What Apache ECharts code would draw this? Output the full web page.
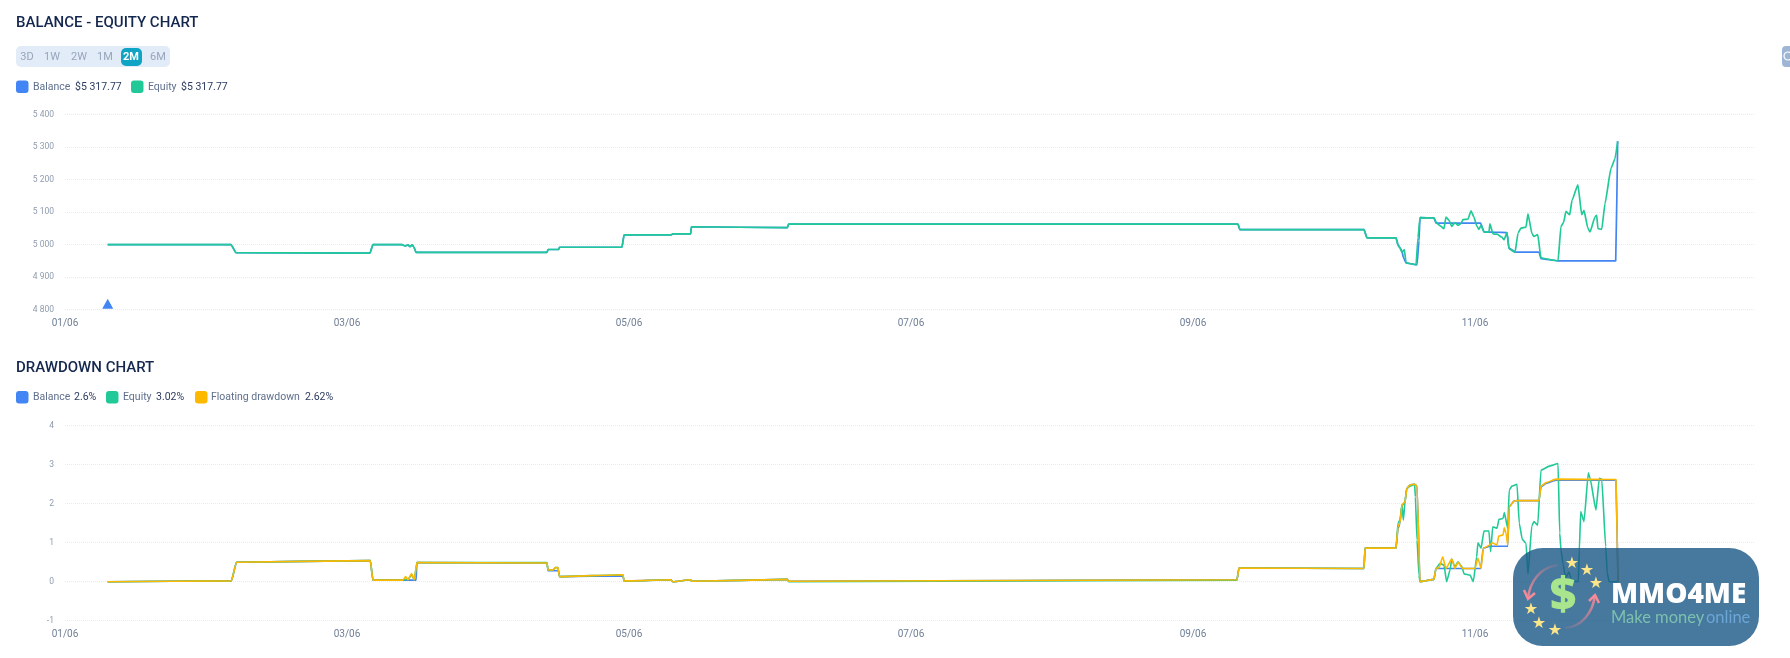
<!DOCTYPE html>
<html><head><meta charset="utf-8">
<style>html,body{margin:0;padding:0;background:#fff}#c{width:1790px;height:658px}</style>
<script src="https://cdn.jsdelivr.net/npm/echarts@6/dist/echarts.min.js"></script>
</head><body><div id="c"></div>
<script>
const rangeButtons=['3D','1W','2W','1M','2M','6M'];
const commonStart=[[0.303,5000],[1.177,5000],[1.213,4975],[2.163,4974],[2.184,5000],[2.39,5000],[2.411,4996],[2.433,4999],[2.447,4994],[2.461,4999],[2.475,4992],[2.489,4976],[3.418,4976],[3.426,4985],[3.5,4985],[3.507,4992],[3.95,4992],[3.965,5030],[4.296,5030],[4.312,5033],[4.437,5033],[4.443,5055],[5.123,5052],[5.132,5063],[8.319,5063],[8.333,5046],[9.213,5046],[9.234,5021],[9.44,5021]];
const balanceTail=[[9.454,5000],[9.468,4990],[9.482,4980],[9.492,4961],[9.511,4944],[9.56,4940],[9.589,4938],[9.603,5012],[9.61,5083],[9.709,5082],[9.723,5066],[10.04,5066],[10.064,5039],[10.15,5038],[10.227,5037],[10.241,4989],[10.291,4977],[10.454,4977],[10.468,4957],[10.589,4950],[10.998,4950],[11.012,5317.77]];
const equityTail=[[9.454,4998],[9.468,4990],[9.482,4976],[9.499,4985],[9.511,4944],[9.56,4940],[9.582,4938],[9.596,5022],[9.61,5083],[9.709,5082],[9.73,5065],[9.759,5056],[9.78,5049],[9.794,5085],[9.816,5075],[9.835,5056],[9.858,5068],[9.879,5059],[9.901,5065],[9.915,5077],[9.95,5078],[9.972,5104],[9.993,5084],[10.014,5056],[10.028,5047],[10.043,5059],[10.064,5039],[10.099,5038],[10.106,5064],[10.128,5033],[10.156,5032],[10.191,5023],[10.206,5015],[10.227,5037],[10.241,4988],[10.284,4976],[10.305,5035],[10.326,5051],[10.362,5054],[10.376,5095],[10.404,5034],[10.418,5025],[10.445,5031],[10.468,4959],[10.532,4954],[10.589,4950],[10.61,5056],[10.629,5069],[10.645,5102],[10.672,5092],[10.688,5136],[10.73,5184],[10.757,5092],[10.773,5105],[10.801,5050],[10.816,5039],[10.851,5085],[10.863,5090],[10.872,5049],[10.899,5047],[10.922,5126],[10.965,5235],[10.993,5264],[11.012,5317.77]];
const firstDeposit=[[0.303,4818]];
const ddCommon=[[0.303,0],[1.18,0.02],[1.216,0.5],[2.165,0.54],[2.184,0.04],[2.396,0.04]];
const ddBalanceTail=[[2.49,0.04],[2.496,0.49],[3.418,0.48],[3.426,0.28],[3.5,0.28],[3.507,0.13],[3.957,0.15],[3.965,0.02],[4.296,0.05],[4.312,0],[4.437,0.05],[4.443,0.01],[5.123,0.06],[5.132,0.01],[8.312,0.05],[8.326,0.35],[9.213,0.34],[9.22,0.86],[9.44,0.86],[9.454,1.35],[9.468,1.5],[9.482,1.95],[9.504,2.05],[9.516,2.39],[9.539,2.48],[9.572,2.5],[9.589,2.45],[9.61,0],[9.709,0.06],[9.723,0.34],[10.04,0.34],[10.059,0.86],[10.106,0.91],[10.232,0.91],[10.243,1.92],[10.277,2.07],[10.298,2.08],[10.454,2.08],[10.468,2.43],[10.504,2.52],[10.574,2.6],[11,2.6],[11.014,0]];
const ddFloatingTail=[[2.416,0.13],[2.433,0.05],[2.458,0.21],[2.477,0.05],[2.496,0.49],[3.418,0.48],[3.426,0.3],[3.46,0.3],[3.479,0.36],[3.496,0.36],[3.507,0.13],[3.957,0.18],[3.965,0.02],[4.296,0.05],[4.312,0],[4.437,0.05],[4.443,0.01],[5.123,0.06],[5.132,0.01],[8.312,0.05],[8.326,0.35],[9.213,0.34],[9.22,0.86],[9.44,0.86],[9.454,1.41],[9.468,1.51],[9.482,1.97],[9.504,2.05],[9.516,2.39],[9.539,2.48],[9.572,2.5],[9.589,2.45],[9.61,0],[9.709,0.06],[9.723,0.34],[9.745,0.36],[9.771,0.64],[9.794,0.34],[9.835,0.58],[9.858,0.34],[9.879,0.5],[9.913,0.34],[10,0.34],[10.021,0.6],[10.043,0.34],[10.059,0.86],[10.106,0.94],[10.121,1],[10.156,0.94],[10.168,1.17],[10.199,1.2],[10.208,1.38],[10.22,1.25],[10.232,0.94],[10.243,1.92],[10.277,2.07],[10.298,2.08],[10.454,2.08],[10.468,2.45],[10.504,2.54],[10.574,2.63],[11,2.62],[11.014,0]];
const ddEquityTail=[[2.416,0.06],[2.433,0.05],[2.458,0.18],[2.477,0.05],[2.496,0.49],[3.418,0.49],[3.426,0.3],[3.46,0.3],[3.479,0.36],[3.496,0.36],[3.507,0.13],[3.957,0.18],[3.965,0.01],[4.296,0.05],[4.312,0],[4.437,0.05],[4.443,0.01],[5.123,0.06],[5.132,0],[8.312,0.04],[8.326,0.35],[9.213,0.34],[9.22,0.86],[9.44,0.86],[9.454,1.5],[9.468,1.58],[9.482,1.97],[9.492,1.58],[9.504,2.05],[9.516,2.39],[9.539,2.45],[9.572,2.5],[9.577,2.18],[9.589,1.07],[9.603,0.17],[9.61,0],[9.709,0.06],[9.723,0.34],[9.752,0.47],[9.78,0.43],[9.799,0],[9.823,0.3],[9.835,0.58],[9.858,0.38],[9.879,0.51],[9.908,0.38],[9.922,0.2],[9.965,0.17],[9.988,0],[10.012,0.64],[10.021,1],[10.043,0.86],[10.064,1.3],[10.099,1.3],[10.111,0.77],[10.126,1.41],[10.156,1.37],[10.17,1.6],[10.199,1.62],[10.208,1.77],[10.232,1.37],[10.243,2.35],[10.262,2.45],[10.298,2.5],[10.314,1.5],[10.335,1.09],[10.362,0.98],[10.376,0.2],[10.403,1.43],[10.418,1.54],[10.445,1.45],[10.468,2.86],[10.532,2.97],[10.589,3.03],[10.601,1.25],[10.61,0.81],[10.626,0.43],[10.643,0.1],[10.667,0.25],[10.686,0.02],[10.733,0],[10.74,0.81],[10.75,1.8],[10.773,1.54],[10.804,2.79],[10.816,2.65],[10.858,1.84],[10.882,2.65],[10.899,2.63],[10.927,0.9],[10.938,0.22],[10.952,0],[11.012,0]];
const topBalance=commonStart.concat(balanceTail);
const topEquity=commonStart.concat(equityTail);
const ddBalance=ddCommon.concat(ddBalanceTail);
const ddEquity=ddCommon.concat(ddEquityTail);
const ddFloating=ddCommon.concat(ddFloatingTail);

const BLUE='#4285f4',GREEN='#20c997',ORANGE='#fcb900';
const NAVY='#14274e',SLATE='#5f6f8c',DARK='#2b3a5e';
const FF='Roboto';
const chart=echarts.init(document.getElementById('c'),null,{renderer:'canvas'});
const fmtDay=v=>String(v+1).padStart(2,'0')+'/06';
const xAxis=i=>({type:'value',gridIndex:i,min:0,max:11.986,interval:2,splitLine:{show:false},axisLine:{show:false},axisTick:{show:false},
  axisLabel:{formatter:fmtDay,color:'#6f7e95',fontSize:10,fontFamily:FF,margin:9,showMaxLabel:false,hideOverlap:false}});
const yAxis=(i,min,max,iv,f)=>({type:'value',gridIndex:i,min,max,interval:iv,axisLine:{show:false},axisTick:{show:false},
  splitLine:{show:true,lineStyle:{color:'#e3edf8',type:'dotted',width:1}},
  axisLabel:{color:'#8f9bad',fontSize:8.5,fontFamily:FF,margin:11,padding:[2,0,0,0],formatter:f}});
const line=(name,data,color,xi,z,w)=>({name,type:'line',data,xAxisIndex:xi,yAxisIndex:xi,symbol:'none',z,
  smooth:0.15,smoothMonotone:'x',lineStyle:{color,width:w||1.6},animation:false});

const txt=(x,y,text,fill,size,weight,extra)=>({type:'text',x,y,z:50,silent:true,
  style:Object.assign({text,fill,fontSize:size,fontWeight:weight||400,fontFamily:FF,verticalAlign:'middle'},extra||{})});
const sq=(x,y,c)=>({type:'rect',x,y,z:50,silent:true,shape:{width:12.5,height:12.5,r:3},style:{fill:c}});
const g=[];
g.push(txt(16,23,'BALANCE - EQUITY CHART',NAVY,15,500));
g.push({type:'rect',x:16,y:46,z:49,silent:true,shape:{width:154,height:21,r:5},style:{fill:'#e1ecf8'}});
g.push({type:'rect',x:121,y:48,z:49,silent:true,shape:{width:21,height:18,r:5},style:{fill:'#0fa3c4'}});
const btnX=[27,52,79,105,131,158];
rangeButtons.forEach((b,i)=>g.push(txt(btnX[i],57,b,b==='2M'?'#fff':'#98a5ba',11,b==='2M'?700:400,{align:'center'})));
g.push(sq(16,80.5,BLUE),txt(33,87,'Balance',SLATE,10.5),txt(75,87,'$5 317.77',DARK,10.5));
g.push(sq(131,80.5,GREEN),txt(148,87,'Equity',SLATE,10.5),txt(181,87,'$5 317.77',DARK,10.5));
g.push({type:'rect',x:1782,y:46,z:49,silent:true,shape:{width:14,height:21,r:4},style:{fill:'#9db6d6'}});
g.push({type:'circle',x:1788,y:56,z:50,silent:true,shape:{r:4},style:{fill:'none',stroke:'#fff',lineWidth:1.2}});
g.push(txt(16,368,'DRAWDOWN CHART',NAVY,15,500));
g.push(sq(16,391,BLUE),txt(33,397.5,'Balance',SLATE,10.5),txt(74,397.5,'2.6%',DARK,10.5));
g.push(sq(106,391,GREEN),txt(123,397.5,'Equity',SLATE,10.5),txt(156,397.5,'3.02%',DARK,10.5));
g.push(sq(195,391,ORANGE),txt(211,397.5,'Floating drawdown',SLATE,10.5),txt(305,397.5,'2.62%',DARK,10.5));
// watermark
const W=61;
g.push({type:'rect',x:1513,y:548,z:60,silent:true,shape:{width:246,height:98,r:30},style:{fill:'rgba(25,86,134,0.8)'}});
const pink=(x0,y0,x1,y1)=>new echarts.graphic.LinearGradient(x0,y0,x1,y1,[{offset:0,color:'rgba(240,130,145,0.05)'},{offset:1,color:'#f58a98'}]);
g.push({type:'bezierCurve',z:W,silent:true,shape:{x1:1558,y1:565,x2:1528,y2:598,cpx1:1540,cpy1:567,cpx2:1530,cpy2:582},style:{stroke:pink(1,0,0,1),fill:'none',lineWidth:2.5}});
g.push({type:'polyline',z:W,silent:true,shape:{points:[[1524,590],[1528,599],[1535,593]]},style:{stroke:'#f58a98',fill:'none',lineWidth:2.5}});
g.push({type:'bezierCurve',z:W,silent:true,shape:{x1:1565,y1:628,x2:1595,y2:595,cpx1:1582,cpy1:627,cpx2:1593,cpy2:612},style:{stroke:pink(0,1,1,0),fill:'none',lineWidth:2.5}});
g.push({type:'polyline',z:W,silent:true,shape:{points:[[1589,601],[1595,595],[1599,603]]},style:{stroke:'#f58a98',fill:'none',lineWidth:2.5}});
const logoText=(x,y,t,c,s,w,e)=>{const o=txt(x,y,t,c,s,w,e);o.z=W;return o;};
[[1572,564],[1587,571],[1596,584],[1531,610],[1539,624],[1555,631]].forEach(p=>g.push(logoText(p[0],p[1],'★','#fde68a',16,400,{fontFamily:'DejaVu Sans',align:'center'})));
g.push(logoText(1563,597,'$','#a9e58c',46,800,{fontFamily:'Open Sans',align:'center'}));
g.push(logoText(1611,595,'MMO4ME','#ffffff',28,800,{fontFamily:'Open Sans'}));
g.push(logoText(1611,618,'Make money','#7cc0ae',16.5,400,{fontFamily:'Lato'}));
g.push(logoText(1706,618,'online','#6ba6d6',16.5,400,{fontFamily:'Lato'}));

chart.setOption({
  animation:false,backgroundColor:'#fff',
  grid:[{left:65,right:35,top:114.5,height:195.2},{left:65,right:35,top:425.7,height:195}],
  xAxis:[xAxis(0),xAxis(1)],
  yAxis:[yAxis(0,4800,5400,100,v=>String(v).replace(/(\d)(\d{3})$/,'$1 $2')),yAxis(1,-1,4,1)],
  series:[
    line('Balance',topBalance,BLUE,0,2,1.7),
    line('Equity',topEquity,GREEN,0,3,1.7),
    {name:'Deposit',type:'scatter',data:firstDeposit,xAxisIndex:0,yAxisIndex:0,symbol:'triangle',symbolSize:[11,10],itemStyle:{color:BLUE,opacity:1},z:4},
    line('Balance',ddBalance,BLUE,1,2),
    line('Equity',ddEquity,GREEN,1,3),
    line('Floating drawdown',ddFloating,ORANGE,1,4)
  ],
  graphic:{elements:g}
});
</script></body></html>
